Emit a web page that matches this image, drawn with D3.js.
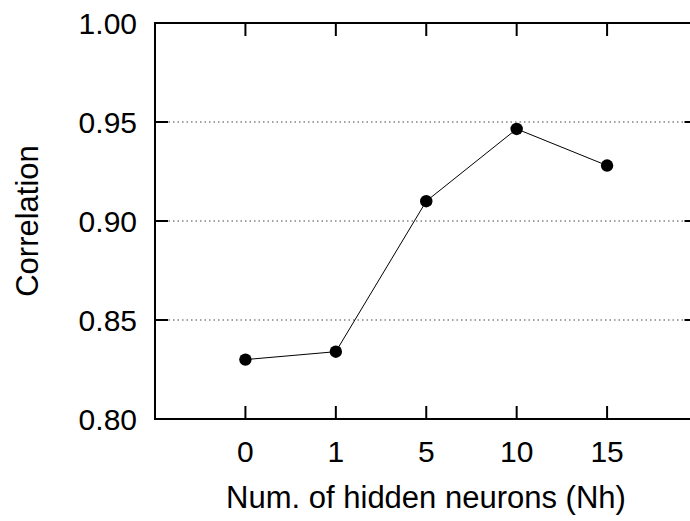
<!DOCTYPE html>
<html lang="en">
<head>
  <meta charset="UTF-8">
  <script src="https://cdn.jsdelivr.net/npm/d3@7"></script>
  <title>Correlation</title>
  <style>
    body { margin: 0; background: #fff; }
    text { font-family: "Liberation Sans", Arial, sans-serif; fill: #000; }
  </style>
</head>
<body>
  <svg width="690" height="521"></svg>
  <script>
    var categories = ["0", "1", "5", "10", "15"];
    var correlation = [0.830, 0.834, 0.910, 0.9465, 0.928];
    var yTicks = [0.80, 0.85, 0.90, 0.95, 1.00];
    var gridTicks = [0.85, 0.90, 0.95];

    var svg = d3.select("svg");
    var plotL = 155, plotR = 697.5, plotT = 23, plotB = 419;

    // x as index, one empty slot on each side
    var x = d3.scaleLinear().domain([-1, 5]).range([plotL, plotR]);
    var y = d3.scaleLinear().domain([0.80, 1.00]).range([plotB, plotT]);
    var tick = 13;
    var fs = 30;

    // grid
    svg.selectAll(".grid").data(gridTicks).enter().append("line")
      .attr("x1", plotL).attr("x2", plotR)
      .attr("y1", d => y(d)).attr("y2", d => y(d))
      .attr("stroke", "#444").attr("stroke-width", 1)
      .attr("stroke-dasharray", "1.5,3");

    // frame
    svg.append("rect")
      .attr("x", plotL).attr("y", plotT)
      .attr("width", plotR - plotL).attr("height", plotB - plotT)
      .attr("fill", "none").attr("stroke", "#000").attr("stroke-width", 2);

    // inward ticks
    var g = svg.append("g").attr("stroke", "#000").attr("stroke-width", 2);
    categories.forEach(function (c, i) {
      g.append("line").attr("x1", x(i)).attr("x2", x(i)).attr("y1", plotB).attr("y2", plotB - tick);
      g.append("line").attr("x1", x(i)).attr("x2", x(i)).attr("y1", plotT).attr("y2", plotT + tick);
    });
    yTicks.forEach(function (v) {
      g.append("line").attr("x1", plotL).attr("x2", plotL + tick).attr("y1", y(v)).attr("y2", y(v));
      g.append("line").attr("x1", plotR).attr("x2", plotR - tick).attr("y1", y(v)).attr("y2", y(v));
    });

    // tick labels
    svg.selectAll(".xl").data(categories).enter().append("text")
      .attr("x", (d, i) => x(i)).attr("y", 462)
      .attr("text-anchor", "middle").attr("font-size", fs)
      .text(d => d);
    svg.selectAll(".yl").data(yTicks).enter().append("text")
      .attr("x", 137).attr("y", d => y(d) + 11)
      .attr("text-anchor", "end").attr("font-size", fs)
      .text(d => d.toFixed(2));

    // axis titles
    svg.append("text").attr("x", 426).attr("y", 508)
      .attr("text-anchor", "middle").attr("font-size", 31)
      .text("Num. of hidden neurons (Nh)");
    svg.append("text")
      .attr("transform", "translate(38,221) rotate(-90)")
      .attr("text-anchor", "middle").attr("font-size", 31)
      .text("Correlation");

    // line and points
    var line = d3.line().x((d, i) => x(i)).y(d => y(d));
    svg.append("path").datum(correlation)
      .attr("d", line).attr("fill", "none")
      .attr("stroke", "#000").attr("stroke-width", 1);
    svg.selectAll(".pt").data(correlation).enter().append("circle")
      .attr("cx", (d, i) => x(i)).attr("cy", d => y(d)).attr("r", 6.2)
      .attr("fill", "#000");
  </script>
</body>
</html>
